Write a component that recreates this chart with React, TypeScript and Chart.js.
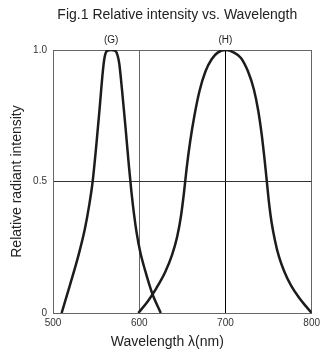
import React, { useEffect, useRef } from "react";
import { Chart, registerables } from "chart.js";

Chart.register(...registerables);

const TITLE = "Fig.1 Relative intensity vs. Wavelength";
const X_TITLE = "Wavelength λ(nm)";
const Y_TITLE = "Relative radiant intensity";

const X_TICKS = [500, 600, 700, 800];
const Y_TICKS = [0, 0.5, 1.0];

const PEAK_LABELS = ["(G)", "(H)"];
const PEAK_WAVELENGTHS = [567.5, 700];

// Curve (G)
const G_WAVELENGTH = [510, 520, 530, 537, 542, 546, 550, 554, 558, 560, 562.5, 567.5, 572.5, 575, 577, 580, 584, 588, 591, 594, 597, 601, 607, 615, 625];
const G_INTENSITY = [0, 0.11, 0.225, 0.32, 0.41, 0.5, 0.63, 0.775, 0.925, 0.975, 0.996, 1.0, 0.996, 0.978, 0.945, 0.85, 0.71, 0.56, 0.46, 0.375, 0.305, 0.235, 0.16, 0.075, 0];

// Curve (H)
const H_WAVELENGTH = [599, 610, 620, 630, 638, 644, 648.5, 652, 655, 659, 664, 670, 677, 684, 691, 700.5, 710, 718, 726, 733, 738, 742, 745.5, 748, 750.5, 753.5, 757.5, 762, 768, 776, 785, 793, 800];
const H_INTENSITY = [0, 0.045, 0.095, 0.155, 0.22, 0.29, 0.37, 0.46, 0.55, 0.65, 0.75, 0.845, 0.92, 0.965, 0.99, 1.0, 0.99, 0.97, 0.92, 0.85, 0.77, 0.68, 0.58, 0.5, 0.42, 0.345, 0.275, 0.215, 0.16, 0.105, 0.06, 0.027, 0];

const FONT = '"Liberation Sans", Arial, sans-serif';

function toPoints(xs: number[], ys: number[]) {
  return xs.map((x, i) => ({ x, y: ys[i] }));
}

const textPlugin = {
  id: "texts",
  afterDraw(chart: any) {
    const ctx = chart.ctx;
    const xs = chart.scales.x;
    const area = chart.chartArea;
    ctx.save();
    ctx.fillStyle = "#222";
    ctx.textAlign = "center";
    ctx.textBaseline = "middle";
    ctx.font = `14px ${FONT}`;
    ctx.fillText(TITLE, (area.left + area.right) / 2 - 5, 15);
    ctx.fillText(X_TITLE, (area.left + area.right) / 2 - 15, 342);
    ctx.font = `10px ${FONT}`;
    PEAK_LABELS.forEach((t, i) => {
      ctx.fillText(t, xs.getPixelForValue(PEAK_WAVELENGTHS[i]), area.top - 10);
    });
    ctx.restore();
  },
};

export default function App() {
  const ref = useRef<HTMLCanvasElement>(null);
  useEffect(() => {
    if (!ref.current) return;
    const lineStyle = {
      borderColor: "#1c1c1c",
      borderWidth: 2.5,
      pointRadius: 0,
      fill: false,
      cubicInterpolationMode: "monotone" as const,
    };
    const chart = new Chart(ref.current, {
      type: "line",
      data: {
        datasets: [
          { label: "G", data: toPoints(G_WAVELENGTH, G_INTENSITY), ...lineStyle },
          { label: "H", data: toPoints(H_WAVELENGTH, H_INTENSITY), ...lineStyle },
        ],
      },
      options: {
        responsive: false,
        animation: false,
        layout: { padding: { left: 0, right: 9, top: 50, bottom: 0 } },
        plugins: { legend: { display: false }, tooltip: { enabled: false }, title: { display: false } },
        scales: {
          x: {
            type: "linear",
            min: X_TICKS[0],
            max: X_TICKS[X_TICKS.length - 1],
            afterBuildTicks: (s: any) => {
              s.ticks = X_TICKS.map((v) => ({ value: v }));
            },
            afterFit: (s: any) => {
              s.height = 40;
            },
            ticks: {
              font: { size: 10, family: FONT },
              color: "#333",
              padding: 4,
              maxRotation: 0,
              autoSkip: false,
            },
            grid: {
              drawTicks: false,
              lineWidth: 1,
              color: (c: any) => {
                const v = c.tick && c.tick.value;
                if (v === 700) return "#000";
                if (v === 600 || v === 800) return "#666";
                return "rgba(0,0,0,0)";
              },
            },
            border: { color: "#666", width: 1 },
          },
          y: {
            type: "linear",
            min: Y_TICKS[0],
            max: Y_TICKS[Y_TICKS.length - 1],
            afterBuildTicks: (s: any) => {
              s.ticks = Y_TICKS.map((v) => ({ value: v }));
            },
            afterFit: (s: any) => {
              s.width = 53;
            },
            ticks: {
              font: { size: 10, family: FONT },
              color: "#333",
              padding: 6,
              callback: (v: any) => (Number(v) === 0 ? "0" : Number(v).toFixed(1)),
            },
            grid: {
              drawTicks: false,
              lineWidth: 1,
              color: (c: any) => {
                const v = c.tick && c.tick.value;
                if (v === 0.5) return "#333";
                if (v === 1) return "#666";
                return "rgba(0,0,0,0)";
              },
            },
            border: { color: "#666", width: 1 },
            title: {
              display: true,
              text: Y_TITLE,
              color: "#222",
              font: { size: 14, family: FONT },
              padding: { top: 9, bottom: 0 },
            },
          },
        },
      },
      plugins: [textPlugin],
    });
    return () => chart.destroy();
  }, []);
  return (
    <div style={{ position: "absolute", left: 0, top: 0, width: 324, height: 353, background: "#fff" }}>
      <canvas ref={ref} width={324} height={353} style={{ display: "block" }} />
    </div>
  );
}
